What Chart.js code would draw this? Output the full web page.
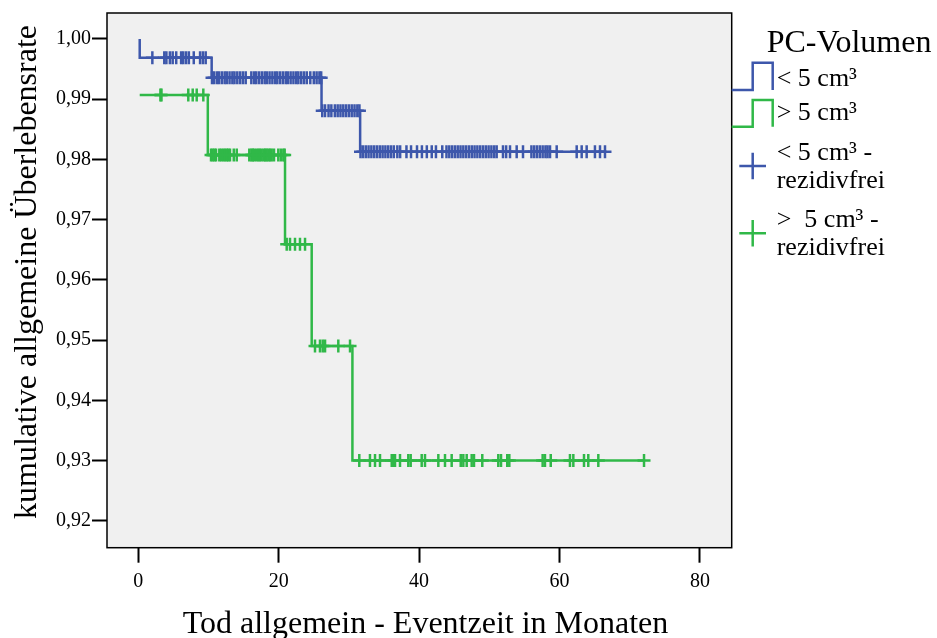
<!DOCTYPE html>
<html>
<head>
<meta charset="utf-8">
<script src="https://cdn.jsdelivr.net/npm/chart.js@4.4.1/dist/chart.umd.min.js"></script>
<style>
  html, body { margin: 0; padding: 0; background: #fff; }
  #wrap { position: relative; width: 937px; height: 638px; }
  #chart { position: absolute; left: 0; top: 0; }
  #overlay { position: absolute; left: 0; top: 0; pointer-events: none; }
  #overlay text { font-family: 'Liberation Serif', 'Times New Roman', serif; fill: #000; }
</style>
</head>
<body>
<div id="wrap">
  <canvas id="chart" width="937" height="638"></canvas>
  <svg id="overlay" width="937" height="638">
    <text id="yTitle" transform="translate(36,272) rotate(-90)" text-anchor="middle" font-size="32"></text>
    <text id="xTitle" x="425.5" y="633" text-anchor="middle" font-size="32"></text>
    <g id="legend"></g>
  </svg>
</div>
<script>
// Achsen
const xTicks = [0, 20, 40, 60, 80];
const yTicks = [0.92, 0.93, 0.94, 0.95, 0.96, 0.97, 0.98, 0.99, 1.00];
const xTitle = 'Tod allgemein - Eventzeit in Monaten';
const yTitle = 'kumulative allgemeine Überlebensrate';

// Kaplan-Meier Stufen: < 5 cm³
const blueTimes = [0.2, 0.2, 10.45, 26.1, 31.6, 66.48];
const blueSurv = [1.00, 0.9969, 0.99358, 0.9881, 0.98129, 0.98129];
const blueCensor = [
  2.0, 3.7, 4.0, 4.5, 4.9, 5.4, 6.1, 6.4, 6.8, 7.2, 7.9, 8.8, 9.2, 9.6,
  10.5, 10.8, 11.2, 11.5, 11.9, 12.3, 12.6, 13.0, 13.4, 13.7, 14.1, 14.5, 14.9, 15.3,
  16.1, 16.5, 16.8, 17.2, 17.6, 18.0, 18.3, 18.7, 19.1, 19.5, 19.8, 20.2, 20.6, 21.0,
  21.3, 21.7, 22.1, 22.5, 22.8, 23.2, 23.6, 24.0, 24.5, 25.0, 25.4, 25.8, 26.05,
  26.2, 26.6, 27.1, 27.5, 28.0, 28.4, 28.8, 29.2, 29.6, 30.0, 30.4, 30.8, 31.2, 31.5,
  31.65, 32.0, 32.4, 32.8, 33.2, 33.6, 34.0, 34.4, 34.8, 35.2, 35.6, 36.0, 36.4, 36.9, 37.3,
  38.2, 38.85, 39.7, 40.4, 41.1, 41.8, 42.4, 43.3, 43.9, 44.3, 44.7, 45.1, 45.5, 45.9,
  46.3, 46.7, 47.1, 47.5, 47.9, 48.3, 48.7, 49.1, 49.5, 49.9, 50.3, 50.7, 51.05,
  51.95, 52.4, 52.95, 53.9, 54.8, 56.0, 56.4, 56.8, 57.2, 57.6, 58.0, 58.3, 58.65, 59.6,
  62.45, 63.16, 63.87, 65.05, 65.77, 66.48
];

// Kaplan-Meier Stufen: > 5 cm³
const greenTimes = [0.2, 9.9, 20.9, 24.7, 30.5, 72.04];
const greenSurv = [0.99071, 0.98075, 0.96593, 0.94905, 0.93006, 0.93006];
const greenCensor = [
  3.15, 3.3, 7.12, 7.75, 8.32, 9.26,
  10.36, 10.6, 10.85, 11.07, 11.54, 11.8, 12.1, 12.35, 12.6, 12.82, 13.06, 13.6, 14.02,
  15.81, 16.1, 16.3, 16.48, 16.8, 17.09, 17.3, 17.58, 17.9, 18.1, 18.29, 18.55, 18.76, 19.0, 19.33, 19.94, 20.3, 20.66, 20.85,
  21.14, 21.61, 22.32, 23.03, 23.75,
  25.17, 25.88, 26.27, 26.6, 28.49, 30.16,
  31.48, 33.0, 33.72, 34.43, 36.1, 36.4, 36.57, 37.28, 38.46, 38.8, 40.37, 40.84, 42.74, 43.69,
  44.64, 45.93, 46.3, 46.78, 47.49, 47.82, 49.0, 51.28, 51.67, 52.56, 52.85, 57.6, 57.93,
  58.75, 61.49, 61.97, 63.49, 64.1, 65.53, 72.04
];

// Legende
const legendTitle = 'PC-Volumen';
const legendLabels = ['< 5 cm³', '> 5 cm³', ['< 5 cm³ -', 'rezidivfrei'], ['>\u00a0 5 cm³ -', 'rezidivfrei']];

const colors = { blue: '#3d57ab', green: '#30b848' };
const serif = "'Liberation Serif', 'Times New Roman', serif";

// Wert der Stufenfunktion zum Zeitpunkt t
function levelAt(times, surv, t) {
  let v = surv[0];
  for (let i = 0; i < times.length; i++) {
    if (times[i] <= t) v = surv[i];
  }
  return v;
}

function stepData(times, surv) {
  return times.map((t, i) => ({ x: t, y: surv[i] }));
}

function censorData(times, surv, censor) {
  return censor.map(t => ({ x: t, y: levelAt(times, surv, t) }));
}

// Hintergrund und Rahmen der Zeichenfläche
const plotFrame = {
  id: 'plotFrame',
  beforeDatasetsDraw(chart) {
    const { ctx, chartArea: a } = chart;
    ctx.save();
    ctx.fillStyle = '#f0f0f0';
    ctx.fillRect(a.left, a.top, a.right - a.left, a.bottom - a.top);
    ctx.restore();
  },
  afterDraw(chart) {
    const { ctx, chartArea: a } = chart;
    ctx.save();
    ctx.strokeStyle = '#000';
    ctx.lineWidth = 1.5;
    ctx.strokeRect(a.left, a.top, a.right - a.left, a.bottom - a.top);
    ctx.restore();
  }
};

const tickGrid = { drawOnChartArea: false, tickLength: 15, tickWidth: 2, tickColor: '#000', color: '#000' };

new Chart(document.getElementById('chart'), {
  data: {
    datasets: [
      {
        type: 'line', label: legendLabels[0], data: stepData(blueTimes, blueSurv),
        stepped: 'before', borderColor: colors.blue, borderWidth: 2.5, pointRadius: 0, fill: false
      },
      {
        type: 'line', label: legendLabels[1], data: stepData(greenTimes, greenSurv),
        stepped: 'before', borderColor: colors.green, borderWidth: 2.5, pointRadius: 0, fill: false
      },
      {
        type: 'scatter', label: legendLabels[2].join(' '), data: censorData(blueTimes, blueSurv, blueCensor),
        pointStyle: 'cross', pointRadius: 6.5, borderWidth: 2.5, borderColor: colors.blue, backgroundColor: colors.blue
      },
      {
        type: 'scatter', label: legendLabels[3].join(' '), data: censorData(greenTimes, greenSurv, greenCensor),
        pointStyle: 'cross', pointRadius: 6.5, borderWidth: 2.5, borderColor: colors.green, backgroundColor: colors.green
      }
    ]
  },
  options: {
    responsive: false,
    animation: false,
    layout: { padding: { left: 0, top: 13, right: 205.3, bottom: 0 } },
    plugins: { legend: { display: false }, tooltip: { enabled: false } },
    scales: {
      x: {
        type: 'linear', min: -4.46, max: 84.53,
        afterBuildTicks: s => { s.ticks = xTicks.map(v => ({ value: v })); },
        afterFit: s => { s.height = 90.3; },
        grid: tickGrid,
        border: { display: false },
        ticks: { font: { family: serif, size: 20 }, color: '#000', padding: 7, maxRotation: 0 }
      },
      y: {
        type: 'linear', min: 0.915568, max: 1.004315,
        afterBuildTicks: s => { s.ticks = yTicks.map(v => ({ value: v })); },
        afterFit: s => { s.width = 107; },
        grid: tickGrid,
        border: { display: false },
        ticks: {
          font: { family: serif, size: 20 }, color: '#000', padding: 1,
          callback: v => v.toFixed(2).replace('.', ',')
        }
      }
    }
  },
  plugins: [plotFrame]
});

// Achsentitel und Legende als SVG-Text
document.getElementById('xTitle').textContent = xTitle;
document.getElementById('yTitle').textContent = yTitle;

const NS = 'http://www.w3.org/2000/svg';
const legend = document.getElementById('legend');
function svgEl(tag, attrs, text) {
  const el = document.createElementNS(NS, tag);
  for (const k in attrs) el.setAttribute(k, attrs[k]);
  if (text) el.textContent = text;
  legend.appendChild(el);
  return el;
}

svgEl('text', { x: 766.7, y: 51.7, 'font-size': 32 }, legendTitle);

// Stufen-Symbole
const stepIcons = [{ low: 90, high: 62.7, color: colors.blue, base: 85.7 }, { low: 126.7, high: 100, color: colors.green, base: 120 }];
stepIcons.forEach((s, i) => {
  svgEl('path', {
    d: `M731.7,${s.low} H752.7 V${s.high} H772.7 V${s.low}`,
    fill: 'none', stroke: s.color, 'stroke-width': 2.5
  });
  svgEl('text', { x: 776.7, y: s.base, 'font-size': 26 }, legendLabels[i]);
});

// Zensur-Symbole
const crossIcons = [{ cy: 166, color: colors.blue, base: [160, 188.3] }, { cy: 233.3, color: colors.green, base: [226.7, 255] }];
crossIcons.forEach((c, i) => {
  svgEl('path', {
    d: `M739.3,${c.cy} H766 M752.7,${c.cy - 13.3} V${c.cy + 13.3}`,
    fill: 'none', stroke: c.color, 'stroke-width': 2.5
  });
  legendLabels[i + 2].forEach((line, j) => {
    svgEl('text', { x: 776.7, y: c.base[j], 'font-size': 26 }, line);
  });
});
</script>
</body>
</html>
